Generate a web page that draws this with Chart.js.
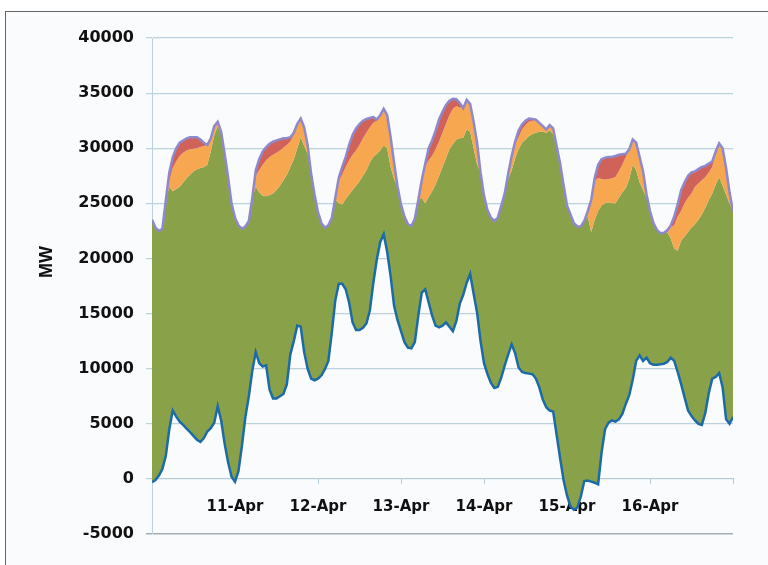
<!DOCTYPE html>
<html>
<head>
<meta charset="utf-8">
<script src="https://cdn.jsdelivr.net/npm/chart.js@4"></script>
<style>
  body { margin: 0; background: #fff; }
  #wrap { position: relative; width: 768px; height: 565px; overflow: hidden; }
  #frame { position: absolute; left: 5px; top: 11px; width: 820px; height: 620px;
           border: 1px solid #666; background: #fafbfd; }
  #myChart { position: absolute; left: 0; top: 0; }
</style>
</head>
<body>
<div id="wrap">
  <div id="frame"></div>
  <canvas id="myChart" width="768" height="565"></canvas>
</div>
<script>
// one point per hour, 10-Apr 00:00 .. 17-Apr 00:00
const hours = Array.from({ length: 169 }, (_, i) => i)
const dayTicks = [0, 24, 48, 72, 96, 120, 144, 168]
const dayLabels = ['', '11-Apr', '12-Apr', '13-Apr', '14-Apr', '15-Apr', '16-Apr', '']
const yTicks = [-5000, 0, 5000, 10000, 15000, 20000, 25000, 30000, 35000, 40000]

// total load (purple line)
const load = [
  23500, 22800, 22500, 22700, 25300, 27800, 29200, 30000, 30500, 30700, 30900, 31000, 31000, 31000, 30800, 30500, 30300, 30900, 32000, 32400, 31500, 29500, 27400, 25000,
  23700, 23000, 22700, 22900, 23400, 25500, 28000, 29000, 29700, 30100, 30400, 30600, 30700, 30800, 30900, 30900, 31000, 31400, 32200, 32700, 31900, 30300, 27700, 25800,
  24200, 23200, 22800, 23000, 23700, 25500, 27300, 28300, 29200, 30300, 31200, 31800, 32200, 32500, 32650, 32750, 32820, 32600, 33000, 33570, 33000, 31000, 28700, 26500,
  24900, 23800, 23100, 22950, 23600, 25300, 27100, 28600, 30000, 30700, 31600, 32600, 33300, 33900, 34300, 34480, 34450, 34100, 33640, 34390, 34000, 32400, 30500, 27800,
  25700, 24400, 23700, 23400, 23700, 24800, 25900, 27700, 29300, 30600, 31600, 32150, 32500, 32700, 32650, 32600, 32300, 32000, 31700, 32100, 31800, 30200, 28650, 26700,
  24800, 24000, 23200, 22900, 22900, 23400, 24300, 25300, 27300, 28500, 29000, 29150, 29200, 29200, 29300, 29400, 29450, 29500, 29900, 30800, 30500, 29200, 27900, 25800,
  24300, 23200, 22600, 22300, 22300, 22550, 23000, 23800, 24900, 26200, 26900, 27500, 27800, 27900, 28100, 28300, 28400, 28600, 28800, 29700, 30450, 30000, 28200, 26000,
  24250
]

// red band (top slice under the load line)
const redBand = [
  0, 0, 0, 0, 0, 800, 1000, 1200, 1200, 1100, 1100, 1100, 1050, 1000, 700, 300, 0, 0, 0, 0, 0, 0, 0, 0,
  0, 0, 0, 0, 0, 0, 500, 1000, 1200, 1200, 1200, 1200, 1100, 1000, 850, 600, 400, 200, 0, 0, 0, 0, 0, 0,
  0, 0, 0, 0, 0, 0, 300, 700, 900, 1400, 1800, 2000, 1900, 1600, 1250, 850, 500, 100, 0, 0, 0, 0, 0, 0,
  0, 0, 0, 0, 0, 0, 0, 300, 1100, 1400, 1700, 2000, 1900, 1700, 1300, 900, 650, 400, 0, 0, 0, 0, 0, 0,
  0, 0, 0, 0, 0, 0, 0, 100, 300, 200, 600, 450, 400, 300, 150, 50, 0, 0, 0, 0, 0, 0, 0, 0,
  0, 0, 0, 0, 0, 0, 0, 0, 300, 1200, 1800, 2000, 2000, 1950, 1900, 1500, 950, 300, 0, 0, 0, 0, 0, 0,
  0, 0, 0, 0, 0, 0, 100, 800, 1100, 1900, 1900, 2000, 1900, 1400, 1300, 1200, 1000, 800, 500, 200, 0, 0, 0, 0,
  0
]

// orange band (below the red one)
const orangeBand = [
  0, 0, 0, 0, 0, 500, 2100, 2500, 2800, 2700, 2500, 2300, 2050, 1900, 1900, 1900, 1800, 1200, 800, 400, 200, 0, 0, 0,
  0, 0, 0, 0, 0, 0, 1000, 2000, 2800, 3250, 3450, 3500, 3400, 3200, 2950, 2700, 2300, 2200, 2200, 1700, 1700, 800, 0, 0,
  0, 0, 0, 0, 0, 100, 2000, 2700, 2900, 3100, 3200, 3200, 3300, 3400, 3400, 3200, 3100, 3000, 3200, 3300, 3000, 2700, 1500, 0,
  0, 0, 0, 0, 0, 0, 1600, 3300, 3300, 3200, 3200, 3100, 3100, 3100, 3100, 3200, 3000, 2800, 2700, 2700, 2500, 2400, 2000, 0,
  0, 0, 0, 0, 0, 0, 0, 400, 1000, 1300, 1100, 1200, 1300, 1300, 1200, 1150, 800, 500, 300, 500, 500, 200, 0, 0,
  0, 0, 0, 0, 0, 0, 500, 2900, 3500, 3000, 2400, 2150, 2100, 2250, 2400, 2400, 2500, 2800, 2700, 2300, 2500, 2300, 1700, 300,
  0, 0, 0, 0, 0, 150, 1100, 2100, 3100, 2700, 3000, 3100, 3100, 3400, 3300, 3100, 2800, 2500, 2400, 2800, 3050, 3400, 2400, 1000,
  0
]

// net load (blue line, bottom of the green area)
const netLoad = [
  -300, -100, 300, 900, 2100, 4500, 6200, 5650, 5200, 4900, 4550, 4250, 3900, 3550, 3350, 3700, 4300, 4600, 5100, 6600, 5300, 3200, 1500, 200,
  -250, 700, 3000, 5600, 7500, 9800, 11500, 10500, 10200, 10300, 8100, 7300, 7300, 7500, 7700, 8600, 11300, 12500, 13900, 13800, 11500, 10000, 9100, 8950,
  9100, 9400, 9950, 10700, 13300, 16200, 17700, 17700, 17200, 16000, 14200, 13500, 13500, 13700, 14100, 15300, 17800, 19900, 21500, 22200, 20600, 18400, 15700, 14400,
  13400, 12400, 11900, 11850, 12400, 14800, 16900, 17200, 16000, 14800, 13900, 13750, 13900, 14200, 13800, 13400, 14300, 15900, 16700, 17800, 18600, 16800, 15100, 12500,
  10500, 9500, 8700, 8250, 8350, 9200, 10300, 11300, 12200, 11400, 10100, 9700, 9600, 9550, 9500, 9100, 8300, 7200, 6500, 6200, 6100, 4000, 1900, -100,
  -1500, -2500, -2800, -2600, -1600, -200, -150, -250, -350, -500, 2400, 4500, 5100, 5300, 5200, 5400, 5900, 6800, 7600, 9000, 10700, 11200, 10700, 11000,
  10500, 10350, 10350, 10400, 10450, 10600, 11000, 10700, 9700, 8600, 7400, 6200, 5700, 5300, 5000, 4900, 6000, 7800, 9100, 9250, 9600, 8300, 5400, 5000,
  5600
]

const orangeTop = load.map((v, i) => v - redBand[i])
const greenTop = orangeTop.map((v, i) => v - orangeBand[i])

function pts(values) {
  return hours.map((h, i) => ({ x: h, y: values[i] }))
}

const mwTitle = {
  id: 'mwTitle',
  afterDraw(chart) {
    const ctx = chart.ctx
    ctx.save()
    ctx.translate(47, 262)
    ctx.rotate(-Math.PI / 2)
    ctx.font = 'bold 18px "Liberation Sans", Arial, sans-serif'
    ctx.fillStyle = '#111'
    ctx.textAlign = 'center'
    ctx.textBaseline = 'middle'
    ctx.fillText('MW', 0, 0)
    ctx.restore()
  }
}

const ctx = document.getElementById('myChart').getContext('2d')

new Chart(ctx, {
  type: 'line',
  data: {
    datasets: [
      {
        label: 'Net load',
        data: pts(netLoad),
        borderColor: '#1c6aa6',
        borderWidth: 2.5,
        pointRadius: 0,
        fill: false,
        order: 0,
      },
      {
        label: 'Green',
        data: pts(greenTop),
        borderWidth: 0,
        borderColor: 'rgba(0,0,0,0)',
        backgroundColor: '#89a24a',
        pointRadius: 0,
        fill: 0,
        order: 4,
      },
      {
        label: 'Orange',
        data: pts(orangeTop),
        borderWidth: 0,
        borderColor: 'rgba(0,0,0,0)',
        backgroundColor: '#f7a750',
        pointRadius: 0,
        fill: 1,
        order: 3,
      },
      {
        label: 'Load',
        data: pts(load),
        borderColor: '#8f89cc',
        borderWidth: 2.5,
        backgroundColor: '#d0625a',
        pointRadius: 0,
        fill: 2,
        order: 1,
      },
    ],
  },
  options: {
    responsive: false,
    animation: false,
    layout: { padding: { left: 0, right: 35, top: 38, bottom: 31 } },
    scales: {
      x: {
        type: 'linear',
        min: 0,
        max: 168,
        position: { y: 0 },
        afterBuildTicks: (scale) => { scale.ticks = dayTicks.map(v => ({ value: v })) },
        grid: { drawOnChartArea: false, drawTicks: true, tickLength: 5, color: '#b7cbd6' },
        border: { display: true, color: '#b7cbd6', width: 1 },
        ticks: {
          autoSkip: false,
          maxRotation: 0,
          padding: 14,
          color: '#111',
          font: { family: '"DejaVu Sans", sans-serif', size: 15, weight: 'bold' },
          callback: (value) => dayLabels[dayTicks.indexOf(value)] || '',
        },
      },
      y: {
        min: -5000,
        max: 40000,
        afterFit: (scale) => { scale.width = 152 },
        afterBuildTicks: (scale) => { scale.ticks = yTicks.map(v => ({ value: v })) },
        grid: {
          color: (c) => (c.tick && c.tick.value === -5000 ? '#a3adb5' : '#bcd2dd'),
          lineWidth: (c) => (c.tick && c.tick.value === -5000 ? 1.5 : 1.2),
          tickLength: 6,
        },
        border: { display: true, color: '#bcd2dd', width: 1 },
        ticks: {
          padding: 12,
          color: '#111',
          font: { family: '"DejaVu Sans", sans-serif', size: 16, weight: 'bold' },
          callback: (value) => String(value),
        },
      },
    },
    plugins: {
      legend: { display: false },
      tooltip: { enabled: false },
      filler: { drawTime: 'beforeDatasetsDraw' },
    },
  },
  plugins: [mwTitle],
})
</script>
</body>
</html>
